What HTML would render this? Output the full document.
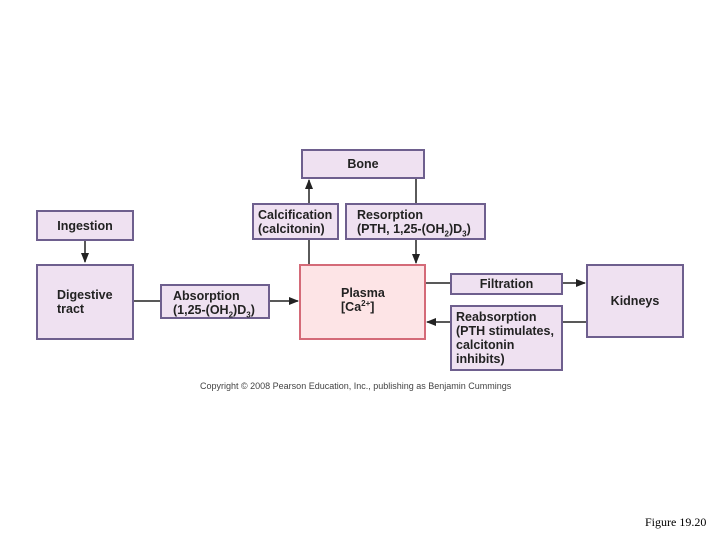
<!DOCTYPE html>
<html><head><style>
body{margin:0;width:720px;height:540px;background:#fff;position:relative;overflow:hidden;font-family:"Liberation Sans",Arial,sans-serif}
.b{position:absolute;box-sizing:border-box;background:#efe1f1;border:2px solid #6e5f8e;font-weight:bold;font-size:12.5px;color:#222;line-height:14px}
.c{display:flex;align-items:center;justify-content:center;text-align:center}
sub,sup{font-size:8px;line-height:0}
</style></head><body>
<svg width="720" height="540" style="position:absolute;left:0;top:0">
<defs><marker id="a" markerWidth="10" markerHeight="8" refX="9" refY="4" orient="auto" markerUnits="userSpaceOnUse"><path d="M0,0 L10,4 L0,8 Z" fill="#222"/></marker></defs>
<g stroke="#222" stroke-width="1.5" fill="none">
<line x1="85" y1="240" x2="85" y2="262" marker-end="url(#a)"/>
<line x1="133" y1="301" x2="160" y2="301"/>
<line x1="269" y1="301" x2="298" y2="301" marker-end="url(#a)"/>
<line x1="309" y1="264" x2="309" y2="240"/>
<line x1="309" y1="203" x2="309" y2="180" marker-end="url(#a)"/>
<line x1="416" y1="178" x2="416" y2="203"/>
<line x1="416" y1="240" x2="416" y2="263" marker-end="url(#a)"/>
<line x1="425" y1="283" x2="450" y2="283"/>
<line x1="562" y1="283" x2="585" y2="283" marker-end="url(#a)"/>
<line x1="586" y1="322" x2="562" y2="322"/>
<line x1="450" y1="322" x2="427" y2="322" marker-end="url(#a)"/>
</g></svg>
<div class="b c" style="left:301px;top:149px;width:124px;height:30px">Bone</div>
<div class="b" style="left:252px;top:203px;width:87px;height:37px;padding:3px 0 0 4px">Calcification<br>(calcitonin)</div>
<div class="b" style="left:345px;top:203px;width:141px;height:37px;padding:3px 0 0 10px">Resorption<br>(PTH, 1,25-(OH<sub>2</sub>)D<sub>3</sub>)</div>
<div class="b c" style="left:36px;top:210px;width:98px;height:31px">Ingestion</div>
<div class="b" style="left:36px;top:264px;width:98px;height:76px;padding:22px 0 0 19px">Digestive<br>tract</div>
<div class="b" style="left:160px;top:284px;width:110px;height:35px;padding:3px 0 0 11px">Absorption<br>(1,25-(OH<sub>2</sub>)D<sub>3</sub>)</div>
<div class="b" style="left:299px;top:264px;width:127px;height:76px;padding:20px 0 0 40px;background:#fde4e6;border-color:#d46a78">Plasma<br>[Ca<sup>2+</sup>]</div>
<div class="b c" style="left:450px;top:273px;width:113px;height:22px">Filtration</div>
<div class="b" style="left:450px;top:305px;width:113px;height:66px;padding:3px 0 0 4px">Reabsorption<br>(PTH stimulates,<br>calcitonin<br>inhibits)</div>
<div class="b c" style="left:586px;top:264px;width:98px;height:74px">Kidneys</div>
<div style="position:absolute;left:200px;top:381px;font-size:9px;color:#444">Copyright © 2008 Pearson Education, Inc., publishing as Benjamin Cummings</div>
<div style="position:absolute;left:645px;top:515px;font-size:12px;font-family:'Liberation Serif',serif;color:#000">Figure 19.20</div>
</body></html>
